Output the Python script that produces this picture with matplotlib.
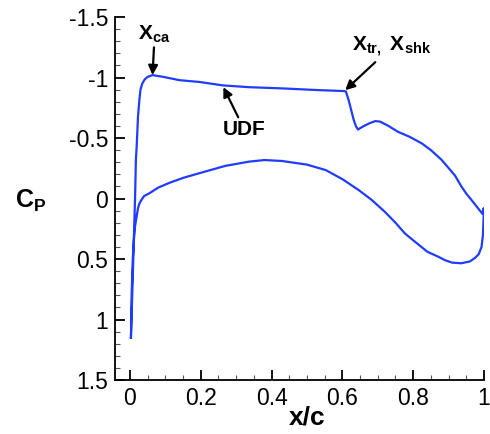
import numpy as np
import matplotlib
matplotlib.use("Agg")
import matplotlib.pyplot as plt
from matplotlib.ticker import MultipleLocator

plt.rcParams['font.family'] = ['Liberation Sans', 'DejaVu Sans']
plt.rcParams['mathtext.fontset'] = 'custom'
plt.rcParams['mathtext.rm'] = 'Liberation Sans'
plt.rcParams['mathtext.bf'] = 'Liberation Sans:bold'

# Cp sur l'extrados (du bord d'attaque au bord de fuite)
x_upper = [0.003, 0.0096, 0.0146, 0.017, 0.019, 0.023, 0.027, 0.030, 0.035, 0.042, 0.050,
           0.064, 0.080, 0.093, 0.14, 0.197, 0.262, 0.337, 0.43, 0.524, 0.604, 0.610,
           0.618, 0.625, 0.632, 0.638, 0.644, 0.655, 0.675, 0.693, 0.707, 0.73, 0.758,
           0.79, 0.824, 0.85, 0.88, 0.918, 0.936, 0.950, 0.964, 0.983, 0.995]
cp_upper = [1.15, 0.50, 0.0, -0.32, -0.42, -0.68, -0.82, -0.90, -0.95, -0.985, -1.005,
            -1.02, -1.012, -1.006, -0.978, -0.963, -0.935, -0.92, -0.91, -0.897, -0.888, -0.885,
            -0.81, -0.73, -0.65, -0.60, -0.57, -0.59, -0.62, -0.64, -0.635, -0.60, -0.55,
            -0.51, -0.456, -0.40, -0.32, -0.19, -0.10, -0.04, 0.01, 0.08, 0.125]

# Cp sur l'intrados (du bord de fuite au bord d'attaque)
x_lower = [0.999, 0.999, 0.997, 0.993, 0.985, 0.975, 0.96, 0.936, 0.91, 0.89, 0.87, 0.84,
           0.805, 0.777, 0.75, 0.72, 0.683, 0.646, 0.60, 0.553, 0.50, 0.43, 0.38, 0.337,
           0.27, 0.197, 0.15, 0.112, 0.08, 0.056, 0.040, 0.033, 0.027, 0.023, 0.019,
           0.0145, 0.011, 0.008, 0.005, 0.003]
cp_lower = [0.08, 0.15, 0.30, 0.40, 0.46, 0.49, 0.52, 0.535, 0.53, 0.51, 0.48, 0.44,
            0.357, 0.29, 0.20, 0.11, 0.012, -0.07, -0.16, -0.235, -0.28, -0.31, -0.318, -0.305,
            -0.27, -0.21, -0.17, -0.13, -0.09, -0.045, -0.02, 0.01, 0.04, 0.08, 0.15,
            0.23, 0.35, 0.51, 0.80, 1.15]

xticks = [0, 0.2, 0.4, 0.6, 0.8, 1]
xtick_labels = ['0', '0.2', '0.4', '0.6', '0.8', '1']
yticks = [-1.5, -1, -0.5, 0, 0.5, 1, 1.5]
ytick_labels = ['-1.5', '-1', '-0.5', '0', '0.5', '1', '1.5']

fig = plt.figure(figsize=(4.9, 4.34), dpi=100)
ax = fig.add_axes([0.2347, 0.1244, 0.7531, 0.8364])

ax.plot(x_upper + x_lower, cp_upper + cp_lower, color='#1f3cff', linewidth=1.6)

ax.set_xlim(-0.042, 1.0)
ax.set_ylim(1.5, -1.5)
ax.set_xticks(xticks)
ax.set_xticklabels(xtick_labels)
ax.set_yticks(yticks)
ax.set_yticklabels(ytick_labels)
ax.xaxis.set_minor_locator(MultipleLocator(0.05))
ax.yaxis.set_minor_locator(MultipleLocator(0.1))

for side in ['top', 'right']:
    ax.spines[side].set_visible(False)
for side in ['left', 'bottom']:
    ax.spines[side].set_linewidth(1.3)

ax.tick_params(which='major', direction='in', length=7.5, width=1.3, labelsize=16.5, pad=5)
ax.tick_params(which='minor', direction='in', length=3.8, width=0.8, color='#555555')

ax.set_xlabel('x/c', fontsize=19, fontweight='bold', labelpad=-3)
ax.xaxis.label.set_x((0.5 + 0.042) / 1.042)
ax.text(-0.28, 0.02, r'$\mathbf{C_P}$', fontsize=18, ha='center', va='center',
        transform=ax.transData, clip_on=False)

arrow = dict(arrowstyle='-|>', color='black', lw=1.6, mutation_scale=14, shrinkA=0, shrinkB=0)
ax.annotate(r'$\mathbf{X_{ca}}$', xy=(0.064, -1.02), xytext=(0.07, -1.36),
            fontsize=15, ha='center', va='center', arrowprops=arrow)
ax.annotate('UDF', xy=(0.264, -0.92), xytext=(0.323, -0.57),
            fontsize=15, fontweight='bold', ha='center', va='center', arrowprops=arrow)
ax.annotate(r'$\mathbf{X_{tr,}}$ $\mathbf{X_{shk}}$', xy=(0.608, -0.895), xytext=(0.738, -1.25),
            fontsize=15, ha='center', va='center', arrowprops=arrow)

fig.savefig('out.png', dpi=100)
